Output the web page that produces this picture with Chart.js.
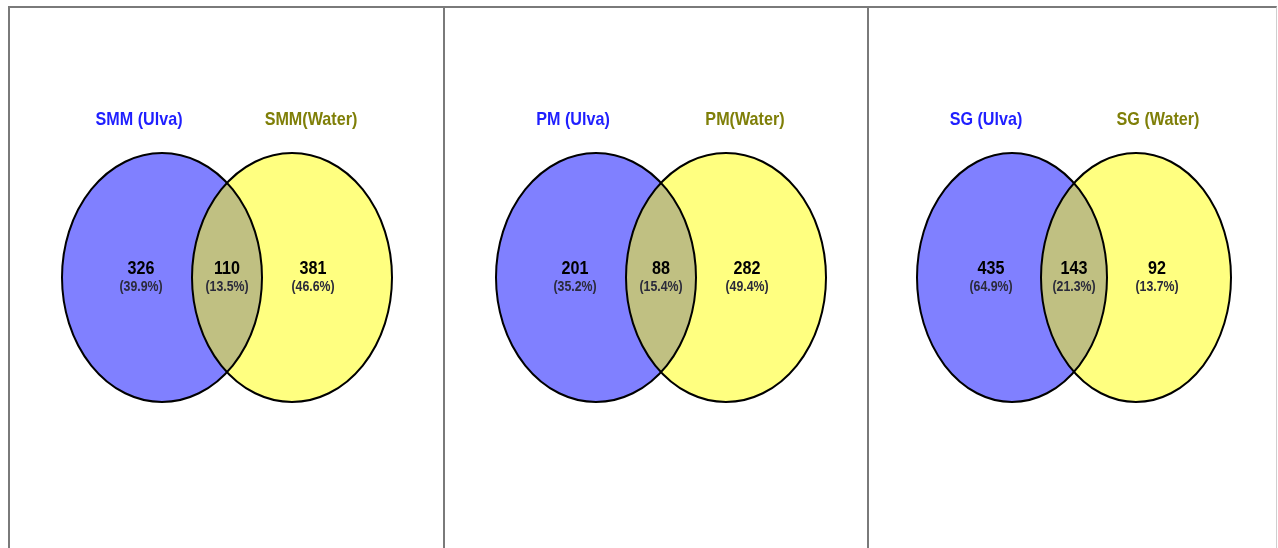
<!DOCTYPE html>
<html>
<head>
<meta charset="utf-8">
<script src="https://cdn.jsdelivr.net/npm/chart.js@4"></script>
<style>
  html, body { margin: 0; padding: 0; background: #fff; }
  body { width: 1278px; height: 548px; position: relative; overflow: hidden; }
  .panel { position: absolute; top: 6px; height: 542px; border-top: 2px solid #7a7a7a; border-left: 2px solid #7a7a7a; }
  .panel canvas { display: block; }
</style>
</head>
<body>
<div class="panel" id="p0" style="left:8px;width:433px;"><canvas id="c0" width="433" height="540"></canvas></div>
<div class="panel" id="p1" style="left:443px;width:422px;"><canvas id="c1" width="422" height="540"></canvas></div>
<div class="panel" id="p2" style="left:867px;width:407px;border-right:1px solid #cfcfcf;"><canvas id="c2" width="407" height="540"></canvas></div>
<script>
// set names and counts, one entry per panel
const leftNames = ['SMM (Ulva)', 'PM (Ulva)', 'SG (Ulva)'];
const rightNames = ['SMM(Water)', 'PM(Water)', 'SG (Water)'];
const onlyLeft = [326, 201, 435];
const shared = [110, 88, 143];
const onlyRight = [381, 282, 92];
const pctLeft = ['39.9', '35.2', '64.9'];
const pctShared = ['13.5', '15.4', '21.3'];
const pctRight = ['46.6', '49.4', '13.7'];

// layout (100px units), where the venn sits in each panel
const vennCenterPx = [217, 216, 205];
const halfGap = [0.65, 0.65, 0.62];
const radiusX = [1.0, 1.0, 0.95];
const radiusY = 1.245;

const BLUE = '#8080ff', YELLOW = '#ffff80', BOTH = '#c0c082';
const FONT = '"Liberation Sans", Arial, sans-serif';
const SQUEEZE = 0.85; // no narrow font installed, so squeeze text sideways

const vennPlugin = {
  id: 'venn',
  beforeDatasetsDraw(chart) {
    const { ctx, scales: { x, y } } = chart;
    const v = chart.options.plugins.venn;
    const path = (cx) => {
      const px = x.getPixelForValue(cx), py = y.getPixelForValue(0);
      const rx = Math.abs(x.getPixelForValue(cx + v.rx) - px);
      const ry = Math.abs(y.getPixelForValue(v.ry) - py);
      ctx.beginPath();
      ctx.ellipse(px, py, rx, ry, 0, 0, Math.PI * 2);
    };
    ctx.save();
    path(-v.gap); ctx.fillStyle = BLUE; ctx.fill();
    path(v.gap); ctx.fillStyle = YELLOW; ctx.fill();
    ctx.save();
    path(-v.gap); ctx.clip();
    path(v.gap); ctx.fillStyle = BOTH; ctx.fill();
    ctx.restore();
    ctx.lineWidth = 2; ctx.strokeStyle = '#000';
    path(-v.gap); ctx.stroke();
    path(v.gap); ctx.stroke();
    ctx.restore();
  },
  afterDatasetsDraw(chart) {
    const { ctx } = chart;
    chart.data.datasets.forEach((ds, i) => {
      const meta = chart.getDatasetMeta(i);
      meta.data.forEach((pt, j) => {
        const d = ds.data[j];
        ctx.save();
        ctx.translate(pt.x, pt.y);
        ctx.scale(SQUEEZE, 1);
        ctx.textAlign = 'center';
        ctx.textBaseline = 'middle';
        ctx.font = d.font;
        ctx.fillStyle = d.color;
        ctx.fillText(d.text, 0, 0);
        ctx.restore();
      });
    });
  }
};

function makeVenn(i) {
  const canvas = document.getElementById('c' + i);
  const w = canvas.width;
  const g = halfGap[i];
  const numFont = 'bold 19px ' + FONT;
  const pctFont = 'bold 14.5px ' + FONT;
  const titleFont = 'bold 19px ' + FONT;
  new Chart(canvas, {
    type: 'scatter',
    data: {
      datasets: [
        {
          data: [
            { x: -0.88, y: 1.575, text: leftNames[i], font: titleFont, color: '#1f1fff' },
            { x: 0.84, y: 1.575, text: rightNames[i], font: titleFont, color: '#7f7f08' }
          ]
        },
        {
          data: [
            { x: -g - 0.21, y: 0.085, text: String(onlyLeft[i]), font: numFont, color: '#000' },
            { x: 0, y: 0.085, text: String(shared[i]), font: numFont, color: '#000' },
            { x: g + 0.21, y: 0.085, text: String(onlyRight[i]), font: numFont, color: '#000' }
          ]
        },
        {
          data: [
            { x: -g - 0.21, y: -0.095, text: '(' + pctLeft[i] + '%)', font: pctFont, color: '#2a2a3a' },
            { x: 0, y: -0.095, text: '(' + pctShared[i] + '%)', font: pctFont, color: '#2a2a3a' },
            { x: g + 0.21, y: -0.095, text: '(' + pctRight[i] + '%)', font: pctFont, color: '#2a2a3a' }
          ]
        }
      ]
    },
    options: {
      responsive: false,
      animation: false,
      layout: { padding: 0 },
      elements: { point: { radius: 0, hoverRadius: 0 } },
      scales: {
        x: { type: 'linear', display: false, min: -vennCenterPx[i] / 100, max: (w - vennCenterPx[i]) / 100 },
        y: { type: 'linear', display: false, min: -2.705, max: 2.695 }
      },
      plugins: {
        legend: { display: false },
        tooltip: { enabled: false },
        venn: { gap: g, rx: radiusX[i], ry: radiusY }
      }
    },
    plugins: [vennPlugin]
  });
}

[0, 1, 2].forEach(makeVenn);
</script>
</body>
</html>
